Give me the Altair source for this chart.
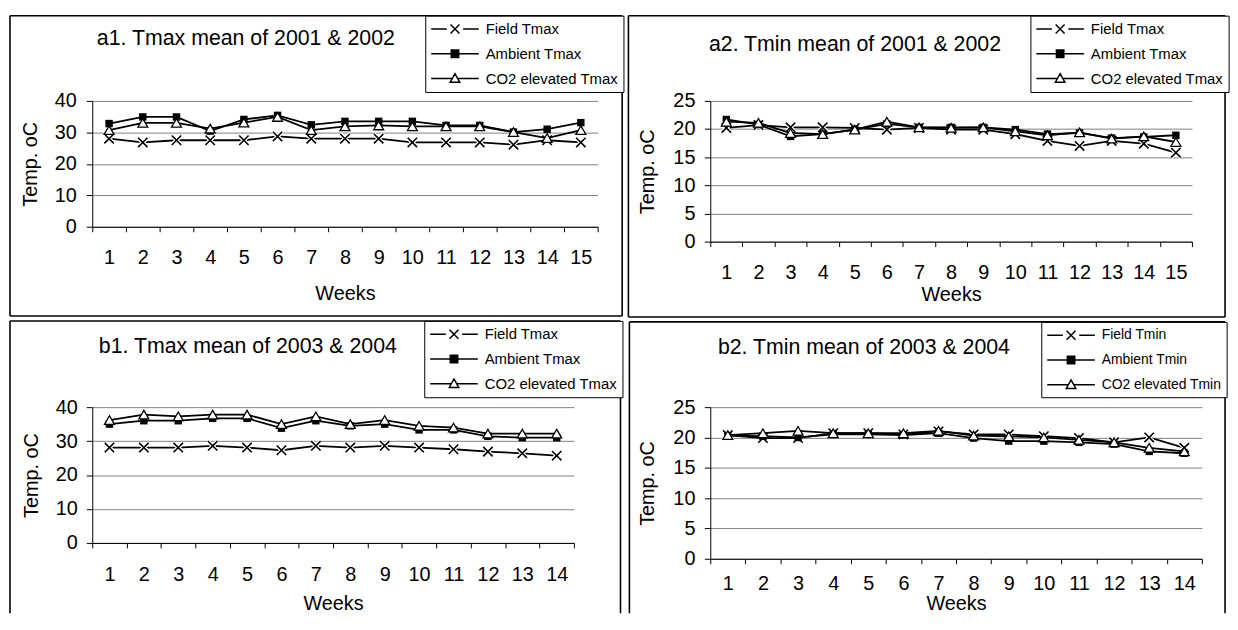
import altair as alt
import pandas as pd

FONT = "Liberation Sans"

# ---------------- data ----------------
a1_weeks = list(range(1, 16))
a1_field = [28.0, 26.8, 27.5, 27.5, 27.5, 28.7, 28.0, 28.0, 28.0, 26.8, 26.8, 26.8, 26.1, 27.5, 26.8]
a1_ambient = [32.8, 34.9, 34.9, 30.4, 34.1, 35.4, 32.4, 33.5, 33.5, 33.5, 32.2, 32.2, 30.1, 31.0, 33.1]
a1_co2 = [30.7, 33.0, 33.0, 31.2, 33.1, 34.9, 30.7, 31.9, 32.2, 31.9, 31.9, 31.9, 30.1, 28.2, 30.7]
a1_labels = ["Field Tmax", "Ambient Tmax", "CO2 elevated Tmax"]
a1_title = "a1. Tmax mean of 2001 & 2002"

a2_weeks = list(range(1, 16))
a2_field = [20.2, 20.7, 20.3, 20.3, 20.2, 19.9, 20.2, 19.9, 19.9, 19.1, 17.9, 17.0, 17.9, 17.4, 15.8]
a2_ambient = [21.7, 20.8, 18.7, 19.1, 19.9, 20.9, 20.3, 20.3, 20.3, 19.9, 19.1, 19.3, 18.4, 18.6, 18.9]
a2_co2 = [21.3, 21.1, 19.3, 19.1, 19.9, 21.3, 20.3, 20.2, 20.3, 19.6, 18.9, 19.4, 18.3, 18.7, 17.7]
a2_labels = ["Field Tmax", "Ambient Tmax", "CO2 elevated Tmax"]
a2_title = "a2. Tmin mean of 2001 & 2002"

b1_weeks = list(range(1, 15))
b1_field = [28.1, 28.1, 28.1, 28.6, 28.1, 27.3, 28.6, 28.1, 28.6, 28.1, 27.6, 26.9, 26.4, 25.7]
b1_ambient = [35.0, 36.0, 36.0, 36.7, 36.7, 33.8, 36.0, 34.5, 35.0, 33.3, 33.3, 31.4, 31.0, 31.0]
b1_co2 = [36.2, 37.8, 37.3, 37.8, 37.8, 35.0, 37.3, 35.0, 36.2, 34.5, 34.0, 32.2, 32.2, 32.2]
b1_labels = ["Field Tmax", "Ambient Tmax", "CO2 elevated Tmax"]
b1_title = "b1. Tmax mean of 2003 & 2004"

b2_weeks = list(range(1, 15))
b2_field = [20.4, 19.9, 19.9, 20.7, 20.7, 20.5, 21.0, 20.5, 20.5, 20.2, 19.9, 19.2, 20.0, 18.3]
b2_ambient = [20.3, 20.2, 20.0, 20.5, 20.5, 20.4, 20.7, 19.9, 19.4, 19.4, 19.2, 18.9, 17.7, 17.4]
b2_co2 = [20.4, 20.7, 21.1, 20.7, 20.7, 20.7, 21.1, 20.3, 20.2, 20.0, 19.6, 19.2, 18.3, 17.7]
b2_labels = ["Field Tmin", "Ambient Tmin", "CO2 elevated Tmin"]
b2_title = "b2. Tmin mean of 2003 & 2004"

y_title = "Temp. oC"
x_title = "Weeks"

# ---------------- styles ----------------
XPATH = "M-1,-1L1,1M-1,1L1,-1"
LEG_PATHS = [
    "M-3.2,0L-1.1,0M1.1,0L3.2,0M-0.6,-0.6L0.6,0.6M-0.6,0.6L0.6,-0.6",
    "M-3.2,0L-0.5,0M0.5,0L3.2,0M-0.5,-0.5L0.5,-0.5L0.5,0.5L-0.5,0.5Z",
    "M-3.2,0L-0.36,0M0.36,0L3.2,0M0,-0.66L0.64,0.48L-0.64,0.48Z",
]
LEG_FILLS = ["white", "black", "white"]
LEG_STROKES = ["black", "black", "black"]


def panel(weeks, field, ambient, co2, labels, title, ymax, ystep, g):
    n = len(weeks)
    df = pd.DataFrame({
        "week": weeks * 3,
        "series": [labels[0]] * n + [labels[1]] * n + [labels[2]] * n,
        "value": field + ambient + co2,
    })
    w, h = g["w"], g["h"]
    x = alt.X(
        "week:O",
        scale=alt.Scale(type="band", paddingInner=0, paddingOuter=0),
        axis=alt.Axis(
            title=x_title, tickBand="extent", labelAngle=0, grid=False,
            tickSize=5, tickColor="black", domainColor="black",
            labelBaseline="middle", labelPadding=g["lp"],
            labelFont=FONT, labelFontSize=20, labelColor="black",
            titleFont=FONT, titleFontSize=20, titleFontWeight="normal", titleColor="black",
            titleX=w / 2, titleY=g["wy"], titleBaseline="middle",
        ),
    )
    y = alt.Y(
        "value:Q",
        scale=alt.Scale(domain=[0, ymax], nice=False, zero=True),
        axis=alt.Axis(
            title=y_title, values=list(range(0, ymax + 1, ystep)), grid=True,
            gridColor="#808080", gridWidth=1, tickSize=6, tickColor="black",
            domainColor="black", labelPadding=g["ylp"],
            labelFont=FONT, labelFontSize=20, labelColor="black",
            titleFont=FONT, titleFontSize=20, titleFontWeight="normal", titleColor="black",
            titleX=g["tx"], titleY=h / 2, titleAngle=270, titleBaseline="middle",
            titleAlign="center",
        ),
    )
    base = alt.Chart(df).encode(x=x, y=y)

    def sel(lbl):
        return base.transform_filter(alt.datum.series == lbl)

    line_f = sel(labels[0]).mark_line(color="black", strokeWidth=1.8)
    halo = sel(labels[0]).mark_point(shape=XPATH, size=90, filled=False, stroke="white",
                                     strokeWidth=4, opacity=1)
    line_a = sel(labels[1]).mark_line(color="black", strokeWidth=1.8)
    line_c = sel(labels[2]).mark_line(color="black", strokeWidth=1.8)
    pts_f = sel(labels[0]).mark_point(shape=XPATH, size=90, filled=False, stroke="black",
                                      strokeWidth=1.6, opacity=1)
    pts_a = sel(labels[1]).mark_point(shape="square", size=56, filled=True, color="black",
                                      opacity=1)
    pts_c = sel(labels[2]).mark_point(shape="triangle-up", size=100, filled=True, fill="white",
                                      stroke="black", strokeWidth=1.3, opacity=1)

    leg = alt.Legend(
        title=None, orient="none", legendX=g["lx"], legendY=g["ly"], direction="vertical",
        symbolSize=225, symbolStrokeWidth=1.5, symbolOffset=16.5,
        labelFont=FONT, labelFontSize=g["lfs"], labelColor="black",
        labelOffset=22.5, labelLimit=400, rowPadding=g["rp"], padding=5,
        strokeColor="black", fillColor="white",
    )
    legend_layer = alt.Chart(df).transform_filter("false").mark_point(
        filled=True, strokeWidth=1.5, opacity=1
    ).encode(
        shape=alt.Shape("series:N", scale=alt.Scale(domain=labels, range=LEG_PATHS), legend=leg),
        fill=alt.Fill("series:N", scale=alt.Scale(domain=labels, range=LEG_FILLS), legend=leg),
        stroke=alt.Stroke("series:N", scale=alt.Scale(domain=labels, range=LEG_STROKES),
                          legend=leg),
    )

    title_layer = alt.Chart(pd.DataFrame({"t": [title]})).mark_text(
        font=FONT, fontSize=21.5, align="center", baseline="middle", color="black"
    ).encode(x=alt.value(g["tix"]), y=alt.value(g["tiy"]), text="t:N")

    L, R, T, B = g["border"]
    sides = ["left", "top", "right", "bottom"] if g["bottom"] else ["left", "top", "right"]
    segs = {
        "left": (L, L, T, B), "right": (R, R, T, B),
        "top": (L, R, T, T), "bottom": (L, R, B, B),
    }
    border_layers = []
    for s in sides:
        x1, x2, y1, y2 = segs[s]
        border_layers.append(
            alt.Chart(pd.DataFrame({"s": [s]})).mark_rule(color="black", strokeWidth=1.6)
            .encode(x=alt.value(x1), x2=alt.value(x2), y=alt.value(y1), y2=alt.value(y2))
        )

    return alt.layer(
        *border_layers, title_layer, line_f, halo, line_a, line_c, pts_f, pts_a, pts_c,
        legend_layer
    ).properties(width=w, height=h)


# plot origins (page): col1 x=93, col2 x=716.6; row1 y=99, row2 y=408
g_a1 = dict(w=510, h=127, lp=26, wy=67, ylp=10, tx=-62, lx=336, ly=-86, lfs=15, rp=8,
            tix=155, tiy=-62, border=(-83, 534.7, -86, 217), bottom=True)
g_a2 = dict(w=486, h=142, lp=26, wy=53, ylp=9.5, tx=-63, lx=323, ly=-86, lfs=15, rp=8,
            tix=146, tiy=-56, border=(-82.6, 519.4, -86, 218), bottom=True)
g_b1 = dict(w=486, h=137, lp=27, wy=61, ylp=9, tx=-61, lx=335, ly=-87, lfs=15, rp=8,
            tix=157, tiy=-61, border=(-83, 533, -87, 208), bottom=False)
g_b2 = dict(w=496, h=153, lp=20, wy=45, ylp=9.5, tx=-63, lx=334, ly=-86, lfs=14, rp=9,
            tix=155, tiy=-60, border=(-81.6, 519.4, -86, 208), bottom=False)

a1 = panel(a1_weeks, a1_field, a1_ambient, a1_co2, a1_labels, a1_title, 40, 10, g_a1)
a2 = panel(a2_weeks, a2_field, a2_ambient, a2_co2, a2_labels, a2_title, 25, 5, g_a2)
b1 = panel(b1_weeks, b1_field, b1_ambient, b1_co2, b1_labels, b1_title, 40, 10, g_b1)
b2 = panel(b2_weeks, b2_field, b2_ambient, b2_co2, b2_labels, b2_title, 25, 5, g_b2)

chart = alt.concat(
    a1, a2, b1, b2, columns=2, bounds="flush",
    spacing={"row": 167, "column": 113.6},
).resolve_scale(
    shape="independent", fill="independent", stroke="independent"
).properties(
    padding={"left": 1, "top": 4, "right": 0, "bottom": 0},
    background="white",
).configure_view(strokeWidth=0)

chart.save("out.html", embed_options={"renderer": "svg", "actions": False})
